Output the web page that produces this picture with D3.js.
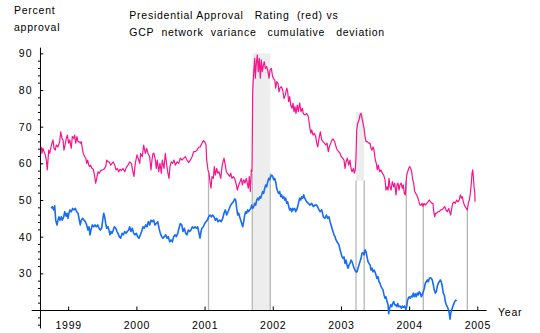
<!DOCTYPE html>
<html>
<head>
<meta charset="utf-8">
<script src="https://cdn.jsdelivr.net/npm/d3@7/dist/d3.min.js"></script>
<style>
  html, body { margin: 0; padding: 0; background: #fff; }
  svg text { font-family: "Liberation Sans", Arial, sans-serif; font-size: 10.5px; fill: #000; letter-spacing: 0.75px; white-space: pre; }
</style>
</head>
<body>
<div id="chart"></div>
<script>
// Presidential approval rating [decimal year, percent]
const approvalRating = [
  [1998.606,64.5],[1998.616,62.7],[1998.630,64.1],[1998.645,63.2],[1998.664,62.3],[1998.679,60.9],[1998.693,58.2],[1998.714,63.6],[1998.729,62.7],[1998.743,64.1],
  [1998.762,65.5],[1998.777,66.4],[1998.792,64.1],[1998.811,63.6],[1998.825,65.0],[1998.850,64.5],[1998.875,65.9],[1998.890,68.6],[1998.909,66.8],[1998.924,66.4],
  [1998.938,63.6],[1998.949,64.5],[1998.972,66.8],[1998.987,67.7],[1999.007,65.5],[1999.022,66.4],[1999.045,64.1],[1999.060,67.3],[1999.081,66.8],[1999.095,67.7],
  [1999.110,65.5],[1999.129,67.3],[1999.144,65.9],[1999.158,65.9],[1999.177,65.5],[1999.192,65.9],[1999.207,64.1],[1999.221,62.7],[1999.242,61.8],[1999.257,61.4],
  [1999.271,60.0],[1999.286,60.9],[1999.301,59.5],[1999.315,59.1],[1999.330,59.5],[1999.349,58.6],[1999.368,58.4],[1999.389,56.4],[1999.403,54.6],[1999.418,55.9],
  [1999.437,57.7],[1999.456,57.3],[1999.477,58.0],[1999.500,58.2],[1999.525,58.4],[1999.550,59.1],[1999.565,60.9],[1999.584,60.4],[1999.603,60.4],[1999.623,59.5],
  [1999.642,60.0],[1999.661,60.4],[1999.682,59.5],[1999.701,58.2],[1999.720,58.6],[1999.741,57.7],[1999.760,58.4],[1999.779,58.0],[1999.804,58.6],[1999.829,57.7],
  [1999.852,58.9],[1999.877,59.5],[1999.902,60.4],[1999.926,60.0],[1999.950,57.7],[1999.965,56.4],[1999.984,60.0],[2000.009,62.3],[2000.034,60.9],[2000.049,60.0],
  [2000.063,62.7],[2000.087,61.8],[2000.107,65.0],[2000.131,62.7],[2000.151,64.1],[2000.170,62.7],[2000.195,61.8],[2000.214,58.2],[2000.229,60.9],[2000.244,62.7],
  [2000.258,62.7],[2000.278,60.9],[2000.292,58.6],[2000.307,60.9],[2000.327,57.7],[2000.346,60.0],[2000.366,57.3],[2000.380,60.9],[2000.405,58.6],[2000.424,62.7],
  [2000.445,59.5],[2000.459,57.7],[2000.478,55.9],[2000.493,59.1],[2000.512,60.4],[2000.533,60.0],[2000.552,60.9],[2000.571,59.5],[2000.596,60.4],[2000.621,60.0],
  [2000.644,61.4],[2000.669,60.9],[2000.694,61.4],[2000.718,61.8],[2000.742,60.9],[2000.767,60.2],[2000.791,60.9],[2000.816,61.8],[2000.841,63.2],[2000.864,63.2],
  [2000.889,63.6],[2000.914,64.4],[2000.938,64.5],[2000.962,65.5],[2000.982,66.2],[2001.002,65.9],[2001.021,65.0],[2001.031,60.9],[2001.050,58.2],[2001.065,57.3],
  [2001.080,55.0],[2001.094,53.2],[2001.109,56.4],[2001.128,55.9],[2001.143,59.1],[2001.158,56.8],[2001.178,58.6],[2001.193,57.3],[2001.212,57.7],[2001.237,55.9],
  [2001.256,59.1],[2001.270,60.4],[2001.285,61.4],[2001.304,59.5],[2001.319,57.7],[2001.334,57.3],[2001.354,56.8],[2001.369,56.4],[2001.383,57.3],[2001.402,55.9],
  [2001.422,56.4],[2001.442,55.9],[2001.466,54.1],[2001.480,52.7],[2001.501,54.1],[2001.520,55.0],[2001.539,55.9],[2001.554,54.1],[2001.574,55.5],[2001.593,54.6],
  [2001.612,55.9],[2001.627,54.6],[2001.642,53.2],[2001.656,56.4],[2001.671,52.3],[2001.686,58.2],[2001.696,57.7],[2001.706,79.5],[2001.715,83.2],[2001.725,85.9],
  [2001.735,88.6],[2001.744,83.2],[2001.759,87.3],[2001.774,89.5],[2001.788,85.0],[2001.803,88.6],[2001.818,83.2],[2001.832,88.2],[2001.847,85.0],[2001.862,86.8],
  [2001.876,87.7],[2001.891,85.9],[2001.911,86.4],[2001.930,85.0],[2001.945,83.2],[2001.960,85.5],[2001.979,85.9],[2001.994,84.1],[2002.008,83.2],[2002.029,82.7],
  [2002.043,80.5],[2002.058,82.3],[2002.077,81.8],[2002.092,79.5],[2002.106,80.5],[2002.126,80.9],[2002.146,80.0],[2002.165,77.7],[2002.184,78.6],[2002.205,80.5],
  [2002.219,79.5],[2002.234,76.8],[2002.249,78.2],[2002.263,75.9],[2002.282,75.0],[2002.297,76.4],[2002.312,74.1],[2002.326,75.5],[2002.341,73.6],[2002.360,75.9],
  [2002.375,74.1],[2002.395,76.4],[2002.414,74.1],[2002.434,75.0],[2002.448,73.6],[2002.469,73.2],[2002.498,73.6],[2002.522,72.7],[2002.542,70.0],[2002.557,68.2],
  [2002.571,69.1],[2002.591,67.7],[2002.610,68.2],[2002.630,67.3],[2002.645,65.5],[2002.660,64.5],[2002.679,66.8],[2002.698,68.6],[2002.718,66.4],[2002.737,65.9],
  [2002.756,65.5],[2002.777,65.0],[2002.796,65.5],[2002.815,63.2],[2002.830,64.5],[2002.850,65.5],[2002.869,66.4],[2002.888,66.6],[2002.909,65.9],[2002.928,64.5],
  [2002.947,63.6],[2002.967,63.2],[2002.987,62.7],[2003.006,61.8],[2003.026,61.4],[2003.045,60.9],[2003.060,58.6],[2003.075,60.4],[2003.094,61.4],[2003.114,59.5],
  [2003.133,60.9],[2003.148,58.6],[2003.163,57.7],[2003.182,58.6],[2003.196,57.3],[2003.211,58.2],[2003.221,61.8],[2003.231,69.1],[2003.246,70.9],[2003.265,71.8],
  [2003.280,73.2],[2003.295,73.6],[2003.309,72.3],[2003.324,70.9],[2003.339,69.6],[2003.353,67.3],[2003.368,65.9],[2003.387,65.9],[2003.407,65.5],[2003.427,65.5],
  [2003.441,64.1],[2003.456,63.6],[2003.471,64.5],[2003.485,63.6],[2003.504,60.9],[2003.519,60.0],[2003.534,58.2],[2003.548,59.5],[2003.569,57.7],[2003.588,58.2],
  [2003.607,57.3],[2003.627,56.8],[2003.647,55.5],[2003.661,52.7],[2003.676,53.6],[2003.691,52.7],[2003.705,55.9],[2003.720,53.6],[2003.735,52.7],[2003.754,55.0],
  [2003.774,53.6],[2003.789,54.6],[2003.808,51.4],[2003.822,54.1],[2003.837,54.6],[2003.852,52.7],[2003.866,54.1],[2003.885,54.6],[2003.900,53.2],[2003.915,54.1],
  [2003.929,51.8],[2003.944,51.4],[2003.954,54.6],[2003.965,56.8],[2003.979,57.7],[2003.994,58.6],[2004.009,59.1],[2004.023,58.6],[2004.038,57.7],[2004.053,55.5],
  [2004.067,54.6],[2004.082,52.3],[2004.097,51.8],[2004.111,51.4],[2004.130,50.5],[2004.145,49.5],[2004.160,48.6],[2004.174,48.6],[2004.189,49.1],[2004.204,48.2],
  [2004.218,49.1],[2004.238,48.6],[2004.258,49.1],[2004.277,49.5],[2004.296,50.0],[2004.317,49.5],[2004.336,49.1],[2004.350,49.1],[2004.361,46.8],[2004.375,45.4],
  [2004.390,46.4],[2004.405,46.4],[2004.424,46.8],[2004.443,46.8],[2004.463,47.3],[2004.482,47.3],[2004.502,47.7],[2004.522,48.2],[2004.541,47.3],[2004.560,46.8],
  [2004.581,47.7],[2004.595,46.8],[2004.610,45.9],[2004.625,47.7],[2004.639,49.1],[2004.658,49.5],[2004.678,49.1],[2004.698,50.0],[2004.717,49.5],[2004.736,50.0],
  [2004.751,51.4],[2004.766,50.5],[2004.780,50.9],[2004.795,49.5],[2004.810,48.6],[2004.824,48.2],[2004.839,47.7],[2004.854,47.3],[2004.868,49.1],[2004.883,50.0],
  [2004.898,51.8],[2004.912,54.6],[2004.923,57.3],[2004.933,58.2],[2004.942,56.4],[2004.952,53.6],[2004.962,52.3],[2004.967,49.5]
];

// GCP network variance, cumulative deviation (plotted on the same scale)
const gcpDeviation = [
  [1998.752,47.7],[1998.767,48.2],[1998.787,47.3],[1998.802,48.4],[1998.817,44.5],[1998.836,43.2],[1998.850,44.5],[1998.865,45.4],[1998.880,44.5],[1998.899,45.4],
  [1998.913,44.5],[1998.934,45.4],[1998.949,46.8],[1998.968,45.6],[1998.982,46.4],[1998.997,45.0],[1999.012,46.4],[1999.026,47.3],[1999.045,46.8],[1999.066,47.7],
  [1999.085,47.3],[1999.104,47.7],[1999.125,46.8],[1999.144,46.4],[1999.163,44.5],[1999.177,43.2],[1999.192,44.5],[1999.213,45.0],[1999.232,44.5],[1999.251,44.1],
  [1999.271,43.2],[1999.290,41.8],[1999.305,42.7],[1999.320,40.5],[1999.334,41.8],[1999.353,43.2],[1999.374,42.7],[1999.393,43.2],[1999.412,42.7],[1999.433,43.2],
  [1999.452,42.3],[1999.471,41.8],[1999.491,42.3],[1999.506,44.5],[1999.521,46.4],[1999.535,45.4],[1999.550,43.6],[1999.565,42.3],[1999.584,42.7],[1999.598,41.8],
  [1999.613,40.5],[1999.628,41.4],[1999.642,40.9],[1999.661,41.8],[1999.676,42.7],[1999.697,42.3],[1999.716,41.4],[1999.730,40.9],[1999.749,40.0],[1999.770,39.6],
  [1999.789,40.9],[1999.808,40.5],[1999.829,41.4],[1999.848,40.9],[1999.867,41.4],[1999.887,41.8],[1999.902,42.7],[1999.921,41.4],[1999.940,42.3],[1999.961,40.9],
  [1999.980,40.5],[1999.999,40.9],[2000.019,40.0],[2000.038,39.6],[2000.058,40.5],[2000.078,41.4],[2000.097,42.7],[2000.116,42.3],[2000.137,43.2],[2000.156,42.7],
  [2000.175,44.1],[2000.195,43.2],[2000.214,44.5],[2000.233,44.1],[2000.254,44.5],[2000.273,43.2],[2000.292,43.6],[2000.313,44.1],[2000.332,42.3],[2000.351,40.9],
  [2000.371,40.0],[2000.390,39.6],[2000.410,40.0],[2000.430,40.5],[2000.449,39.6],[2000.468,40.0],[2000.489,38.6],[2000.508,39.1],[2000.527,38.6],[2000.547,40.0],
  [2000.566,40.5],[2000.586,40.0],[2000.606,40.9],[2000.625,42.3],[2000.644,43.6],[2000.665,43.2],[2000.684,41.4],[2000.703,42.3],[2000.723,40.9],[2000.742,40.5],
  [2000.762,41.8],[2000.782,41.4],[2000.801,41.8],[2000.820,42.7],[2000.841,42.3],[2000.860,42.7],[2000.879,42.3],[2000.899,42.7],[2000.918,40.9],[2000.933,39.6],
  [2000.948,41.4],[2000.962,42.3],[2000.982,42.7],[2001.002,43.6],[2001.021,44.1],[2001.040,44.5],[2001.061,45.4],[2001.080,45.9],[2001.099,45.4],[2001.119,45.9],
  [2001.138,45.4],[2001.158,44.5],[2001.178,45.0],[2001.197,44.1],[2001.222,44.5],[2001.245,44.1],[2001.266,45.0],[2001.285,46.4],[2001.304,47.3],[2001.325,45.9],
  [2001.344,46.8],[2001.363,47.7],[2001.383,48.6],[2001.402,49.1],[2001.422,49.5],[2001.442,50.3],[2001.457,50.0],[2001.471,47.7],[2001.486,45.9],[2001.501,46.4],
  [2001.515,45.4],[2001.530,44.5],[2001.545,43.6],[2001.559,42.7],[2001.574,44.1],[2001.589,45.9],[2001.603,46.8],[2001.618,46.4],[2001.633,47.3],[2001.647,46.8],
  [2001.662,47.3],[2001.677,47.7],[2001.691,48.6],[2001.706,47.7],[2001.721,48.2],[2001.735,49.1],[2001.750,48.6],[2001.765,50.0],[2001.779,50.5],[2001.794,50.0],
  [2001.809,50.9],[2001.823,50.5],[2001.838,51.4],[2001.853,52.3],[2001.867,51.8],[2001.882,53.2],[2001.897,54.1],[2001.911,53.6],[2001.926,55.0],[2001.941,55.9],
  [2001.955,55.5],[2001.970,56.4],[2001.985,56.8],[2001.999,56.4],[2002.014,55.5],[2002.029,55.9],[2002.043,55.0],[2002.058,53.2],[2002.073,52.3],[2002.087,51.8],
  [2002.102,52.3],[2002.117,50.9],[2002.131,51.4],[2002.146,50.5],[2002.161,50.9],[2002.175,50.0],[2002.190,50.5],[2002.205,49.1],[2002.219,49.5],[2002.234,48.2],
  [2002.249,47.3],[2002.263,47.7],[2002.278,46.8],[2002.293,47.7],[2002.307,47.3],[2002.322,47.7],[2002.337,46.8],[2002.351,47.3],[2002.366,48.2],[2002.381,49.5],
  [2002.395,50.5],[2002.410,50.0],[2002.425,50.9],[2002.439,50.5],[2002.454,51.4],[2002.469,50.5],[2002.498,49.5],[2002.522,49.1],[2002.547,48.6],[2002.571,49.1],
  [2002.595,48.2],[2002.620,48.6],[2002.645,48.6],[2002.668,47.7],[2002.693,46.8],[2002.718,47.3],[2002.742,45.4],[2002.767,45.0],[2002.786,45.9],[2002.806,45.0],
  [2002.825,45.4],[2002.840,44.1],[2002.855,43.2],[2002.869,42.3],[2002.884,41.4],[2002.899,40.5],[2002.913,40.0],[2002.928,39.1],[2002.943,38.6],[2002.957,38.2],
  [2002.972,37.7],[2002.987,36.4],[2003.001,35.5],[2003.016,34.5],[2003.031,34.1],[2003.045,34.5],[2003.060,32.7],[2003.075,33.6],[2003.089,32.3],[2003.104,31.4],
  [2003.119,32.3],[2003.133,32.7],[2003.148,33.6],[2003.163,33.2],[2003.177,32.3],[2003.192,31.4],[2003.207,30.9],[2003.221,30.4],[2003.236,30.4],[2003.251,31.4],
  [2003.265,32.3],[2003.280,33.2],[2003.295,34.1],[2003.309,35.5],[2003.324,35.6],[2003.339,35.0],[2003.353,36.4],[2003.368,35.9],[2003.383,34.5],[2003.397,33.2],
  [2003.412,32.7],[2003.427,32.3],[2003.441,30.9],[2003.456,31.4],[2003.471,30.4],[2003.485,30.9],[2003.500,30.4],[2003.515,29.5],[2003.529,28.6],[2003.544,29.1],
  [2003.559,27.7],[2003.573,27.3],[2003.588,26.4],[2003.603,25.9],[2003.617,25.5],[2003.632,24.1],[2003.647,23.2],[2003.661,23.6],[2003.676,22.3],[2003.691,21.4],
  [2003.701,19.0],[2003.715,20.5],[2003.730,21.4],[2003.745,20.9],[2003.759,21.8],[2003.774,22.3],[2003.789,21.4],[2003.803,21.4],[2003.818,20.9],[2003.833,21.8],
  [2003.847,20.9],[2003.866,21.1],[2003.885,20.5],[2003.900,21.1],[2003.915,20.7],[2003.935,21.1],[2003.950,20.2],[2003.965,20.9],[2003.973,22.3],[2003.988,23.2],
  [2004.003,23.6],[2004.017,23.2],[2004.032,23.8],[2004.047,23.6],[2004.061,24.6],[2004.076,23.6],[2004.091,24.4],[2004.105,23.6],[2004.120,24.6],[2004.135,24.1],
  [2004.149,25.0],[2004.164,24.6],[2004.179,23.6],[2004.193,24.1],[2004.208,25.0],[2004.223,25.9],[2004.238,27.3],[2004.252,27.7],[2004.267,28.2],[2004.281,27.7],
  [2004.296,28.6],[2004.311,28.8],[2004.325,28.6],[2004.340,28.2],[2004.355,26.8],[2004.369,25.5],[2004.384,24.6],[2004.399,25.0],[2004.413,26.4],[2004.428,27.3],
  [2004.443,27.7],[2004.457,28.2],[2004.472,27.7],[2004.487,26.4],[2004.501,24.6],[2004.516,24.1],[2004.531,22.3],[2004.545,21.4],[2004.560,20.9],[2004.575,20.2],
  [2004.589,19.1],[2004.600,17.5],[2004.610,19.1],[2004.625,20.0],[2004.639,20.9],[2004.654,21.6],[2004.669,22.3],[2004.683,22.7],[2004.698,22.5]
];

// event markers: start/end year, level where the marker line stops, optional shaded band
const eventStart  = [2001.058, 2001.700, 2003.221, 2003.959, 2004.208, 2004.854];
const eventEnd    = [2001.058, 2001.964, 2003.341, 2003.959, 2004.208, 2004.854];
const eventTop    = [57.3, 57.3, 55.3, 55.3, 48.1, 47.8];
const shadeLow    = [null, 20.0, 55.3, null, null, null];
const shadeHigh   = [null, 90.0, 73.9, null, null, null];

const yearTicks = [1999, 2000, 2001, 2002, 2003, 2004, 2005];
const percentTicks = [30, 40, 50, 60, 70, 80, 90];
const percentMinor = d3.range(16, 91, 2).filter((d) => d % 10 !== 0);

const titleLines = [
  "Presidential Approval   Rating  (red) vs",
  "GCP  network  variance   cumulative   deviation"
];

class ApprovalChart {
  constructor(parent) {
    this.parent = parent;
    this.width = 540;
    this.height = 333;
    this.initVis();
  }

  initVis() {
    const vis = this;

    vis.svg = d3.select(vis.parent).append("svg")
      .attr("width", vis.width)
      .attr("height", vis.height);

    vis.x = d3.scaleLinear().domain([1999, 2005]).range([68.2, 477.3]);
    vis.y = d3.scaleLinear().domain([20, 90]).range([310, 53.33]);

    // axis lines run a bit past the data range, like the original
    vis.xExtent = [1998.457, 2005.128];
    vis.yExtent = [15.1, 91.7];
    vis.yAxisAt = 1998.586;

    vis.drawEvents();
    vis.drawAxes();
    vis.drawSeries();
    vis.drawLabels();
  }

  drawEvents() {
    const vis = this;
    const events = eventStart.map((s, i) => ({
      start: s, end: eventEnd[i], top: eventTop[i], lo: shadeLow[i], hi: shadeHigh[i]
    }));

    vis.svg.append("g").selectAll("rect")
      .data(events.filter((d) => d.hi !== null))
      .join("rect")
      .attr("x", (d) => vis.x(d.start))
      .attr("width", (d) => vis.x(d.end) - vis.x(d.start))
      .attr("y", (d) => vis.y(d.hi))
      .attr("height", (d) => vis.y(d.lo) - vis.y(d.hi))
      .attr("fill", "#ededed");

    const marks = [];
    events.forEach((d) => {
      marks.push({ t: d.start, top: d.top });
      if (d.end !== d.start) marks.push({ t: d.end, top: d.top });
    });

    vis.svg.append("g").selectAll("line")
      .data(marks)
      .join("line")
      .attr("x1", (d) => vis.x(d.t))
      .attr("x2", (d) => vis.x(d.t))
      .attr("y1", (d) => vis.y(d.top))
      .attr("y2", vis.y(20))
      .attr("stroke", "#b3b8b3")
      .attr("stroke-width", 1.3);
  }

  drawAxes() {
    const vis = this;

    const xAxisScale = vis.x.copy().domain(vis.xExtent).range(vis.xExtent.map(vis.x));
    const yAxisScale = vis.y.copy().domain(vis.yExtent).range(vis.yExtent.map(vis.y));

    const xAxis = vis.svg.append("g")
      .attr("class", "x-axis")
      .attr("transform", `translate(0,${vis.y(20)})`)
      .call(d3.axisBottom(xAxisScale)
        .tickValues(yearTicks)
        .tickFormat(d3.format("d"))
        .tickSizeInner(-3.5)
        .tickSizeOuter(0)
        .tickPadding(12));
    xAxis.selectAll("text").attr("font-size", null).attr("font-family", null);

    const yAxis = vis.svg.append("g")
      .attr("class", "y-axis")
      .attr("transform", `translate(${vis.x(vis.yAxisAt)},0)`)
      .call(d3.axisLeft(yAxisScale)
        .tickValues(percentTicks)
        .tickSizeInner(-3.3)
        .tickSizeOuter(0)
        .tickPadding(7));
    yAxis.selectAll("text")
      .attr("font-size", null).attr("font-family", null)
      .style("letter-spacing", "1.3px");

    const yMinor = vis.svg.append("g")
      .attr("transform", `translate(${vis.x(vis.yAxisAt)},0)`)
      .call(d3.axisLeft(yAxisScale)
        .tickValues(percentMinor)
        .tickSize(2)
        .tickFormat(""));
    yMinor.select(".domain").remove();

    vis.svg.selectAll(".domain, .tick line").attr("stroke", "#000");
  }

  drawSeries() {
    const vis = this;
    const line = d3.line()
      .x((d) => vis.x(d[0]))
      .y((d) => vis.y(d[1]));

    vis.svg.append("path")
      .datum(gcpDeviation)
      .attr("fill", "none")
      .attr("stroke", "#166cf2")
      .attr("stroke-width", 1.6)
      .attr("stroke-linejoin", "round")
      .attr("d", line);

    vis.svg.append("path")
      .datum(approvalRating)
      .attr("fill", "none")
      .attr("stroke", "#f5148c")
      .attr("stroke-width", 1.2)
      .attr("stroke-linejoin", "round")
      .attr("d", line);
  }

  drawLabels() {
    const vis = this;

    vis.svg.append("text").attr("x", 14).attr("y", 13.5).text("Percent");
    vis.svg.append("text").attr("x", 14).attr("y", 31).text("approval");

    vis.svg.selectAll(".title-line")
      .data(titleLines)
      .join("text")
      .attr("class", "title-line")
      .attr("x", 129.3)
      .attr("y", (d, i) => 18.5 + i * 17.7)
      .text((d) => d);

    vis.svg.append("text")
      .attr("x", 498)
      .attr("y", 316)
      .text("Year");
  }
}

new ApprovalChart("#chart");
</script>
</body>
</html>
